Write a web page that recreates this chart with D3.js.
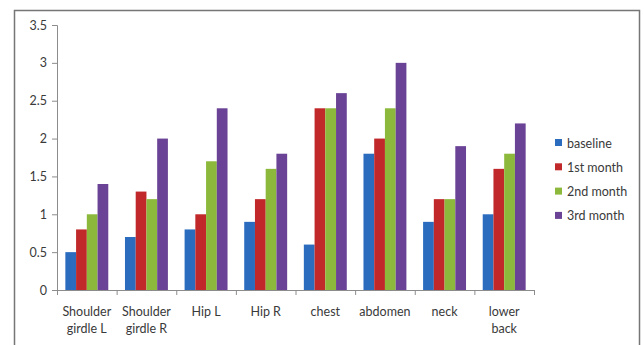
<!DOCTYPE html>
<html>
<head>
<meta charset="utf-8">
<script src="https://cdn.jsdelivr.net/npm/d3@7/dist/d3.min.js"></script>
<style>
  html, body { margin: 0; padding: 0; background: #fff; }
  svg { display: block; }
  text { font-family: Lato, "Open Sans", sans-serif; fill: #3a3a3a; }
</style>
</head>
<body>
<svg id="chart" width="644" height="345"></svg>
<script>
// Body regions assessed each month
const categories = [
  ["Shoulder", "girdle L"], ["Shoulder", "girdle R"], ["Hip L"], ["Hip R"],
  ["chest"], ["abdomen"], ["neck"], ["lower", "back"]
];
const seriesNames = ["baseline", "1st month", "2nd month", "3rd month"];
const baseline   = [0.5, 0.7, 0.8, 0.9, 0.6, 1.8, 0.9, 1.0];
const month1     = [0.8, 1.3, 1.0, 1.2, 2.4, 2.0, 1.2, 1.6];
const month2     = [1.0, 1.2, 1.7, 1.6, 2.4, 2.4, 1.2, 1.8];
const month3     = [1.4, 2.0, 2.4, 1.8, 2.6, 3.0, 1.9, 2.2];
const yTicks     = [0, 0.5, 1, 1.5, 2, 2.5, 3, 3.5];
const colors     = ["#2b6cbf", "#c0282a", "#8cb93b", "#6b4396"];

const series = [baseline, month1, month2, month3];
const svg = d3.select("#chart");

// outer frame
svg.append("rect")
  .attr("x", 14.5).attr("y", 10.5)
  .attr("width", 625).attr("height", 345)
  .attr("fill", "none").attr("stroke", "#767676").attr("stroke-width", 1.5);

const plotL = 57, plotR = 534, plotT = 25, plotB = 290;
const keys = categories.map((c, i) => i);

const x0 = d3.scaleBand().domain(keys).range([plotL, plotR])
  .paddingInner(0.28).paddingOuter(0.14);
const x1 = d3.scaleBand().domain(d3.range(series.length)).range([0, x0.bandwidth()]);
const y = d3.scaleLinear().domain([0, 3.5]).range([plotB, plotT]);

// bars
const groups = svg.append("g").selectAll("g")
  .data(keys).join("g")
  .attr("transform", i => `translate(${x0(i)},0)`);
groups.selectAll("rect")
  .data(i => series.map((s, k) => ({ k, v: s[i] })))
  .join("rect")
  .attr("x", d => x1(d.k))
  .attr("width", x1.bandwidth())
  .attr("y", d => y(d.v))
  .attr("height", d => y(0) - y(d.v))
  .attr("fill", d => colors[d.k]);

// y axis
const yAxis = svg.append("g")
  .attr("transform", `translate(${plotL},0)`)
  .call(d3.axisLeft(y).tickValues(yTicks).tickFormat(d3.format("")).tickSize(5).tickPadding(5));
yAxis.select(".domain").attr("stroke", "#8c8c8c");
yAxis.selectAll(".tick line").attr("stroke", "#8c8c8c");
yAxis.selectAll("text").attr("font-size", 12.5).style("fill", "#3a3a3a")
  .style("font-family", "Lato, sans-serif");

// x axis: tick marks on the category boundaries
const boundaries = d3.range(categories.length + 1).map(i => plotL + i * (plotR - plotL) / categories.length);
svg.append("line")
  .attr("x1", plotL).attr("x2", plotR).attr("y1", plotB + 0.5).attr("y2", plotB + 0.5)
  .attr("stroke", "#8c8c8c");
svg.append("g").selectAll("line").data(boundaries).join("line")
  .attr("x1", d => d + 0.5).attr("x2", d => d + 0.5)
  .attr("y1", plotB).attr("y2", plotB + 5)
  .attr("stroke", "#8c8c8c");

// category labels
const labels = svg.append("g").selectAll("text")
  .data(keys).join("text")
  .attr("text-anchor", "middle")
  .attr("font-size", 12.5)
  .attr("x", i => x0(i) + x0.bandwidth() / 2)
  .attr("y", 316);
labels.selectAll("tspan")
  .data(i => categories[i].map(t => ({ t, i })))
  .join("tspan")
  .attr("x", d => x0(d.i) + x0.bandwidth() / 2)
  .attr("dy", (d, j) => j === 0 ? 0 : 16.5)
  .text(d => d.t);

// legend
const legend = svg.append("g").selectAll("g")
  .data(seriesNames).join("g")
  .attr("transform", (d, k) => `translate(555,${143 + k * 24.3})`);
legend.append("rect")
  .attr("x", 0).attr("y", -4).attr("width", 7).attr("height", 7)
  .attr("fill", (d, k) => colors[k]);
legend.append("text")
  .attr("x", 12).attr("y", 4.5)
  .attr("font-size", 12.5)
  .text(d => d);
</script>
</body>
</html>
